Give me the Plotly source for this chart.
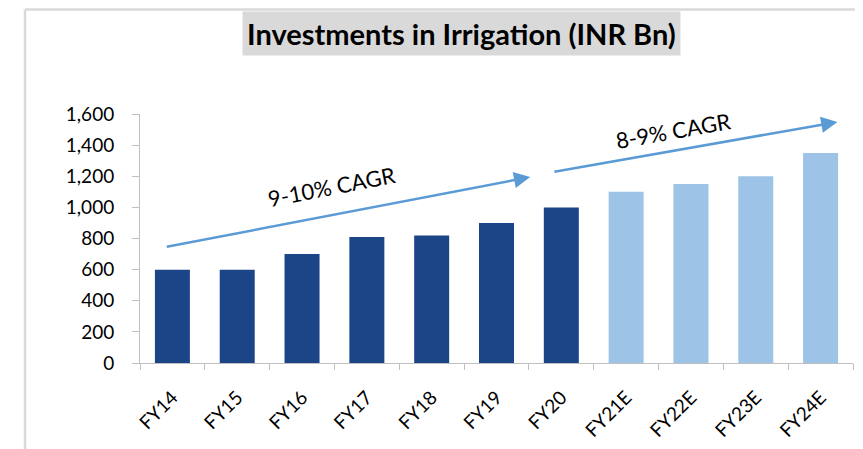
import plotly.graph_objects as go

categories = ["FY14", "FY15", "FY16", "FY17", "FY18", "FY19", "FY20",
              "FY21E", "FY22E", "FY23E", "FY24E"]
values = [600, 600, 700, 810, 820, 900, 1000, 1100, 1150, 1200, 1350]
is_estimate = [False] * 7 + [True] * 4
y_ticks = [0, 200, 400, 600, 800, 1000, 1200, 1400, 1600]
title_text = "Investments in Irrigation (INR Bn)"
cagr_labels = ["9-10% CAGR", "8-9% CAGR"]

DARK = "#1c4587"
LIGHT = "#9dc3e6"
ARROW = "#5b9bd5"
FONT = "Lato, Carlito, Calibri, sans-serif"

colors = [LIGHT if e else DARK for e in is_estimate]

fig = go.Figure(go.Bar(x=categories, y=values, marker_color=colors,
                       marker_line_width=0, showlegend=False))

# The page body adds an 8px offset, so the figure is sized/margined to compensate.
fig.update_layout(
    width=855, height=441,
    margin=dict(l=132, r=10, t=106, b=86, autoexpand=False),
    paper_bgcolor="white", plot_bgcolor="white",
    bargap=0.46,
    font=dict(family=FONT, color="black"),
    xaxis=dict(type="category", showline=True, linecolor="#bfbfbf", linewidth=1,
               ticks="outside", tickson="boundaries", ticklen=6, tickcolor="#bfbfbf",
               tickangle=-45, tickfont=dict(size=19, family=FONT), showgrid=False,
               ticklabelstandoff=15, automargin=False),
    yaxis=dict(range=[0, 1600], tickvals=y_ticks, tickformat=",d",
               showline=True, linecolor="#bfbfbf", linewidth=1,
               ticks="outside", ticklen=7, tickcolor="#bfbfbf",
               tickfont=dict(size=19, family=FONT), showgrid=False, zeroline=False,
               ticklabelstandoff=14, automargin=False),
)

# Border lines (top and left) of the chart frame
fig.add_shape(type="line", xref="paper", yref="paper", x0=-0.1613, x1=1.05,
              y0=1.4197, y1=1.4197, line=dict(color="#d9d9d9", width=2.5))
fig.add_shape(type="line", xref="paper", yref="paper", x0=-0.1613, x1=-0.1613,
              y0=1.4197, y1=-0.5, line=dict(color="#d9d9d9", width=2.5))

# Title box
fig.add_annotation(xref="paper", yref="paper", x=0.4516, y=1.322, text="<b>" + title_text + "</b>",
                   showarrow=False, font=dict(size=29, family=FONT, color="black"),
                   bgcolor="#d9d9d9", borderpad=4, xanchor="center", yanchor="middle")

# CAGR arrows (category index / value coordinates)
fig.add_annotation(xref="x", yref="y", axref="x", ayref="y",
                   x=5.52, y=1195, ax=-0.11, ay=745, text="", showarrow=True,
                   arrowhead=2, arrowsize=1.3, arrowwidth=2.5, arrowcolor=ARROW)
fig.add_annotation(xref="x", yref="y", axref="x", ayref="y",
                   x=10.26, y=1549, ax=5.87, ay=1227, text="", showarrow=True,
                   arrowhead=2, arrowsize=1.3, arrowwidth=2.5, arrowcolor=ARROW)

fig.add_annotation(xref="x", yref="y", x=2.46, y=1135, text=cagr_labels[0], showarrow=False,
                   textangle=-11, font=dict(size=22, family=FONT, color="black"))
fig.add_annotation(xref="x", yref="y", x=7.73, y=1495, text=cagr_labels[1], showarrow=False,
                   textangle=-10, font=dict(size=22, family=FONT, color="black"))

fig.write_html("out.html")
